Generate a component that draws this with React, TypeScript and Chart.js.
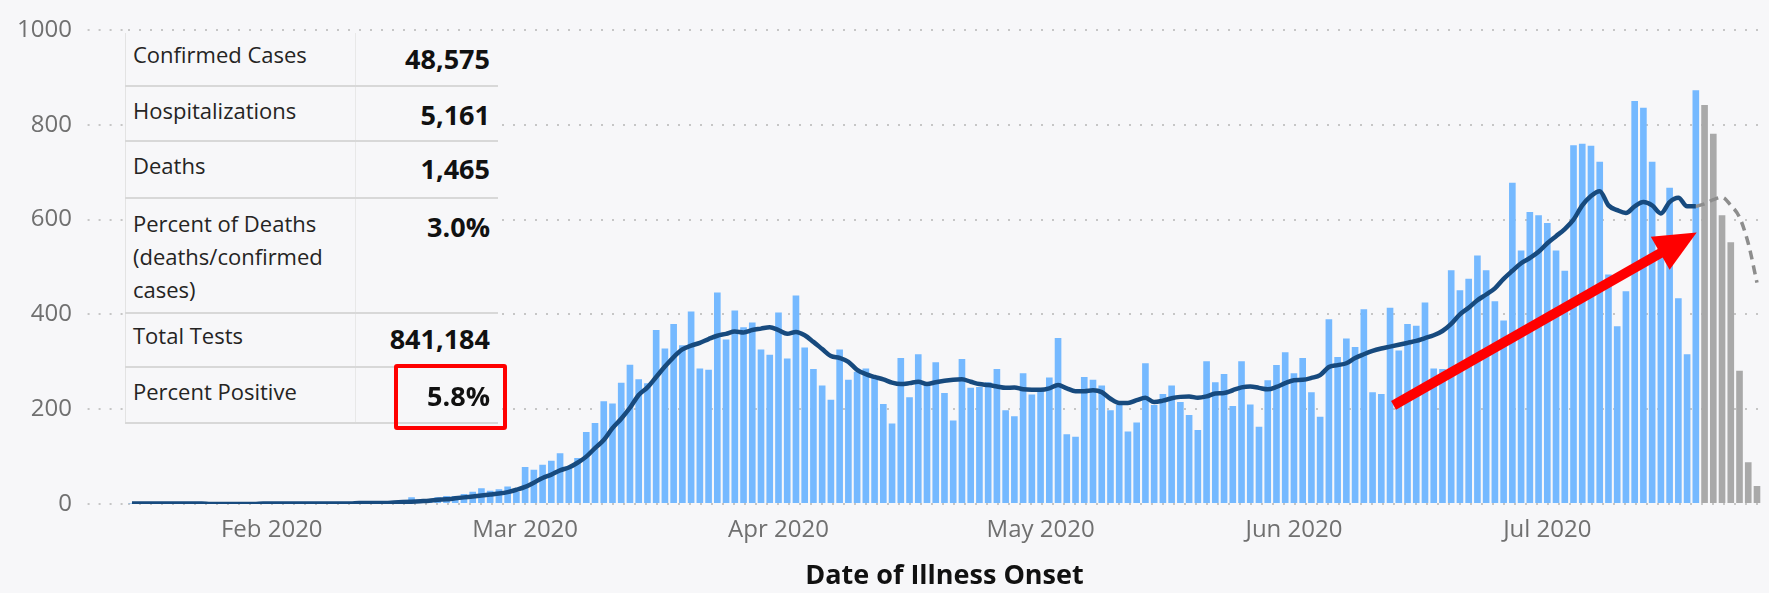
import React, { useEffect, useRef } from 'react';
import { Chart, registerables } from 'chart.js';

Chart.register(...registerables);

// ---------- DATA ----------
const firstOnsetDay = '2020-01-16';
const totalDays = 187;

// category positions where the month labels sit on the axis
const monthTickIndex = [16, 45, 74, 104, 133, 162];
const monthTickLabels = ['Feb 2020', 'Mar 2020', 'Apr 2020', 'May 2020', 'Jun 2020', 'Jul 2020'];

const yTickValues = [0, 200, 400, 600, 800, 1000];

// confirmed cases by illness onset day
const confirmedCases = [
  1, 1, 2, 1, 1, 1, 1, 0, 0, 0, 0, 0, 0, 0, 0, 1, 1, 1, 1, 1, 1, 1, 1, 1, 2, 2, 2, 3, 3, 4, 5, 5,
  14, 8, 10, 14, 17, 17, 21, 26, 33, 28, 31, 37, 26, 78, 72, 83,
  91, 107, 80, 97, 152, 171,
  217, 212, 256, 294, 263, 255, 367, 328, 380, 335, 406, 286, 283, 446, 347, 408, 373, 383, 326, 315, 404, 307, 440,
  330, 285, 250, 220, 326, 262, 279, 286, 269, 211, 170, 308, 225, 316, 251, 299, 234, 176, 306, 245, 247, 257, 285, 198, 185, 276, 231, 240,
  267, 350, 147, 142, 268, 262, 250, 198, 209, 153, 172, 297, 209, 232, 250, 215, 188, 156, 301, 257, 274, 207, 301, 210, 163, 261, 293, 320, 276,
  308, 236, 184, 390, 310, 349, 331, 411, 236, 232, 414, 324, 380, 376, 425, 286, 285, 493, 451, 475, 524, 493, 428, 387, 678, 535, 616, 609, 593, 535, 492, 757, 760, 756, 722, 484, 375, 449, 850, 836, 722, 540, 667, 434, 316, 873,
];

// most recent days, still incomplete
const pendingCases = [842, 781, 609, 552, 281, 88, 38];

// 7-day moving average
const movingAverage = [
  1, 1, 1, 1, 1, 1, 1, 1, 1, 0, 0, 0, 0, 0, 0, 1, 1, 1, 1, 1, 1, 1, 1, 1, 1, 1, 2, 2, 2, 2,
  3, 4, 5, 6, 7, 9, 10, 12, 14, 16, 18, 20, 22, 25, 30, 36, 45, 55, 62, 71, 77, 87, 100, 118,
  135, 160, 180, 203, 230, 246, 268, 290, 310, 326, 334, 340, 348, 355, 359, 364, 362, 367, 370, 373, 367, 359, 363,
  356, 342, 327, 312, 308, 300, 283, 274, 268, 263, 256, 253, 255, 258, 253, 257, 260, 262, 263, 258, 253, 251, 248, 245, 246, 242, 241, 241,
  244, 251, 244, 238, 238, 240, 236, 222, 213, 213, 219, 224, 215, 218, 223, 226, 227, 224, 227, 233, 234, 240, 246, 248, 245, 242, 247, 255, 261,
  262, 266, 272, 289, 293, 297, 308, 316, 323, 328, 332, 336, 340, 344, 350, 356, 365, 380, 400, 414, 430, 442, 455, 475, 492, 508, 519, 532, 550, 565, 580, 600, 630, 650, 660, 630, 620, 614, 628, 637, 630, 613, 637, 646, 628, 628,
];

// projected moving average over incomplete days
const pendingAverage = [628, 633, 642, 647, 630, 605, 550, 467];

// summary table
const tableLabels = [
  ['Confirmed Cases'],
  ['Hospitalizations'],
  ['Deaths'],
  ['Percent of Deaths', '(deaths/confirmed', 'cases)'],
  ['Total Tests'],
  ['Percent Positive'],
];
const tableValues = ['48,575', '5,161', '1,465', '3.0%', '841,184', '5.8%'];

// annotation arrow (category index, value)
const arrowTail = [144.4, 208];
const arrowTip = [179.1, 573];

// ---------- LAYOUT ----------
const W = 1769;
const H = 593;
const BG = '#f7f7f9';
const rowBottoms = [86, 141, 198, 313, 367, 423];
const labelTops = [38, 94, 149, 207, 319, 375];
const valueTops = [42, 98, 152, 210, 322, 379];

function buildDates(): string[] {
  const start = new Date(firstOnsetDay + 'T00:00:00Z').getTime();
  const out: string[] = [];
  for (let i = 0; i < totalDays; i++) {
    out.push(new Date(start + i * 86400000).toISOString().slice(0, 10));
  }
  return out;
}

const arrowPlugin = {
  id: 'redArrow',
  afterDatasetsDraw(chart: any) {
    const xs = chart.scales.x;
    const ys = chart.scales.y;
    const x1 = xs.getPixelForValue(arrowTail[0]);
    const y1 = ys.getPixelForValue(arrowTail[1]);
    const x2 = xs.getPixelForValue(arrowTip[0]);
    const y2 = ys.getPixelForValue(arrowTip[1]);
    const dx = x2 - x1;
    const dy = y2 - y1;
    const len = Math.hypot(dx, dy);
    const ux = dx / len;
    const uy = dy / len;
    const px = -uy;
    const py = ux;
    const headLen = 42;
    const headHalf = 19;
    const bx = x2 - ux * headLen;
    const by = y2 - uy * headLen;
    const ctx = chart.ctx;
    ctx.save();
    ctx.strokeStyle = '#ff0000';
    ctx.fillStyle = '#ff0000';
    ctx.lineWidth = 10;
    ctx.lineCap = 'butt';
    ctx.beginPath();
    ctx.moveTo(x1, y1);
    ctx.lineTo(bx + ux * 2, by + uy * 2);
    ctx.stroke();
    ctx.beginPath();
    ctx.moveTo(x2, y2);
    ctx.lineTo(bx + px * headHalf, by + py * headHalf);
    ctx.lineTo(bx - px * headHalf, by - py * headHalf);
    ctx.closePath();
    ctx.fill();
    ctx.restore();
  },
};

export default function App() {
  const canvasRef = useRef<HTMLCanvasElement | null>(null);

  useEffect(() => {
    if (!canvasRef.current) return;
    Chart.defaults.font.family = "'Open Sans', sans-serif";
    const dates = buildDates();
    const nBlue = confirmedCases.length;
    const blueData = dates.map((_, i) => (i < nBlue ? confirmedCases[i] : null));
    const grayData = dates.map((_, i) => (i >= nBlue ? pendingCases[i - nBlue] : null));
    const avgData = dates.map((_, i) => (i < movingAverage.length ? movingAverage[i] : null));
    const pendStart = totalDays - pendingAverage.length;
    const pendAvgData = dates.map((_, i) => (i >= pendStart ? pendingAverage[i - pendStart] : null));

    const chart = new Chart(canvasRef.current, {
      type: 'bar',
      data: {
        labels: dates,
        datasets: [
          {
            type: 'line',
            label: '7-day average',
            data: avgData,
            borderColor: '#174a7e',
            borderWidth: 4.5,
            pointRadius: 0,
            cubicInterpolationMode: 'monotone',
            order: 0,
          } as any,
          {
            type: 'line',
            label: '7-day average (incomplete)',
            data: pendAvgData,
            borderColor: '#8d8d8d',
            borderWidth: 3.5,
            borderDash: [9, 6],
            pointRadius: 0,
            cubicInterpolationMode: 'monotone',
            order: 0,
          } as any,
          {
            type: 'bar',
            label: 'Confirmed cases',
            data: blueData,
            backgroundColor: '#75b9ff',
            grouped: false,
            categoryPercentage: 1,
            barPercentage: 0.76,
            order: 1,
          } as any,
          {
            type: 'bar',
            label: 'Incomplete',
            data: grayData,
            backgroundColor: '#a9a9a9',
            grouped: false,
            categoryPercentage: 1,
            barPercentage: 0.76,
            order: 1,
          } as any,
        ],
      },
      options: {
        animation: false,
        responsive: false,
        devicePixelRatio: 1,
        layout: { padding: { top: 24, right: 7, bottom: 0, left: 0 } },
        plugins: { legend: { display: false }, tooltip: { enabled: false } },
        scales: {
          x: {
            type: 'category',
            grid: { display: false, drawTicks: false },
            border: { display: false },
            ticks: {
              autoSkip: false,
              maxRotation: 0,
              minRotation: 0,
              padding: 12,
              color: '#707070',
              font: { size: 24 },
              callback: (_v: any, idx: number) => {
                const k = monthTickIndex.indexOf(idx);
                return k >= 0 ? monthTickLabels[k] : '';
              },
            },
            title: {
              display: true,
              text: 'Date of Illness Onset',
              color: '#111111',
              font: { size: 27, weight: 'bold' },
              padding: 0,
            },
            afterFit: (s: any) => {
              s.height = 89;
            },
          },
          y: {
            min: 0,
            max: 1000,
            afterBuildTicks: (s: any) => {
              s.ticks = yTickValues.map((v) => ({ value: v }));
            },
            ticks: {
              padding: 15.6,
              color: '#707070',
              font: { size: 24 },
              callback: (v: any) => String(v),
            },
            grid: {
              color: '#c6c6c6',
              lineWidth: 2,
              drawTicks: true,
              tickLength: 40,
              tickColor: '#c6c6c6',
              tickWidth: 2,
              tickBorderDash: [2, 9],
            },
            border: { display: false, dash: [2, 9] },
            afterFit: (s: any) => {
              s.width = 127.6;
            },
          },
        },
      } as any,
      plugins: [arrowPlugin],
    });
    return () => chart.destroy();
  }, []);

  return (
    <div
      style={{
        position: 'fixed',
        left: 0,
        top: 0,
        width: W,
        height: H,
        background: BG,
        fontFamily: "'Open Sans', sans-serif",
        overflow: 'hidden',
      }}
    >
      <canvas
        ref={canvasRef}
        width={W}
        height={H}
        style={{ position: 'absolute', left: 0, top: 0, width: W, height: H }}
      />
      {/* summary table */}
      <div style={{ position: 'absolute', left: 125, top: 33, width: 373, height: 390, background: BG }} />
      <div style={{ position: 'absolute', left: 125, top: 33, width: 1, height: 390, background: '#e3e3e3' }} />
      <div style={{ position: 'absolute', left: 355, top: 33, width: 1, height: 390, background: '#e8e8e8' }} />
      {rowBottoms.map((b, i) => (
        <div
          key={'line' + i}
          style={{ position: 'absolute', left: 125, top: b - 1, width: 373, height: 2, background: '#d8d8d8' }}
        />
      ))}
      {tableLabels.map((lines, i) => (
        <div
          key={'lab' + i}
          style={{
            position: 'absolute',
            left: 133,
            top: labelTops[i],
            fontSize: 22,
            lineHeight: '33px',
            color: '#252423',
            whiteSpace: 'nowrap',
          }}
        >
          {lines.map((t, j) => (
            <div key={j}>{t}</div>
          ))}
        </div>
      ))}
      {tableValues.map((v, i) => (
        <div
          key={'val' + i}
          style={{
            position: 'absolute',
            left: 125,
            width: 365,
            top: valueTops[i],
            fontSize: 27,
            fontWeight: 700,
            lineHeight: '33px',
            color: '#111111',
            textAlign: 'right',
            whiteSpace: 'nowrap',
          }}
        >
          {v}
        </div>
      ))}
      {/* highlight box around percent positive */}
      <div
        style={{
          position: 'absolute',
          left: 394,
          top: 364,
          width: 113,
          height: 66,
          border: '4px solid #ff0000',
          borderRadius: 3,
          boxSizing: 'border-box',
        }}
      />
    </div>
  );
}
